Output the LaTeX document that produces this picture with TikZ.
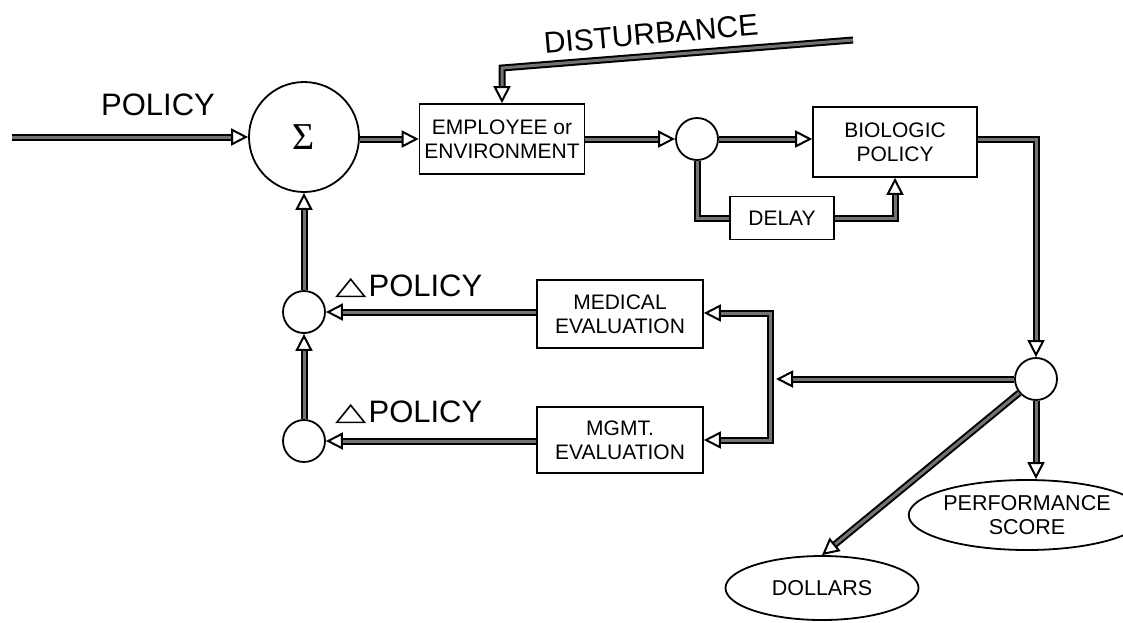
\documentclass[tikz,border=0pt]{standalone}
\usepackage{fontspec}
\setmainfont{Liberation Sans}
\newfontfamily\dejavu{DejaVu Sans}
\newfontfamily\grserif{Liberation Serif}
\usetikzlibrary{arrows.meta,shapes.geometric}
\begin{document}
\begin{tikzpicture}[x=1pt,y=-1pt,
  box/.style={draw, line width=1.6pt, inner sep=0pt, align=center,
    font=\fontsize{21}{24}\selectfont},
  ring/.style={draw, circle, line width=1.8pt, inner sep=0pt},
  oval/.style={draw, ellipse, line width=1.8pt, inner sep=0pt, align=center,
    font=\fontsize{21.5}{24}\selectfont},
  pipe/.style={draw=black, line width=2pt, double=black!55, double distance=3pt},
  arrowhd/.style={-{Triangle[open, length=17pt, width=17pt, line width=2pt]}},
  biglabel/.style={font=\fontsize{31}{31}\selectfont, inner sep=0pt}
]
\useasboundingbox (0,0) rectangle (1123,622);

% nodes
\node[ring, minimum size=110pt] (sigma) at (304,137) {\grserif\fontsize{38}{38}\selectfont Σ};
\node[box, minimum width=165pt, minimum height=70pt] (emp) at (502,139) {EMPLOYEE or\\ENVIRONMENT};
\node[ring, minimum size=42pt] (c1) at (697,139) {};
\node[box, minimum width=164pt, minimum height=70pt] (bio) at (895,142) {BIOLOGIC\\POLICY};
\node[box, minimum width=104pt, minimum height=43pt] (delay) at (782,218) {DELAY};
\node[ring, minimum size=42pt] (c3) at (1036,379) {};
\node[box, minimum width=166pt, minimum height=68pt] (med) at (620,314) {MEDICAL\\EVALUATION};
\node[box, minimum width=166pt, minimum height=66pt] (mgmt) at (620,440) {MGMT.\\EVALUATION};
\node[ring, minimum size=42pt] (cu) at (304,312) {};
\node[ring, minimum size=42pt] (cl) at (304,441) {};
\node[oval, minimum width=187pt, minimum height=70pt] (perf) at (1027,515) {PERFORMANCE\\SCORE};
\node[oval, minimum width=193pt, minimum height=64pt] (dollars) at (822,588) {DOLLARS};

% labels
\node[biglabel] (lpolicy) at (158,105) {POLICY};
\node[biglabel, font=\fontsize{30}{30}\selectfont, rotate=5] (ldist) at (651,34) {DISTURBANCE};
\node[biglabel, anchor=west] (ldp1) at (335,286) {{\dejavu\fontsize{24}{24}\selectfont\raisebox{2pt}{\scalebox{1.7}[1.05]{△}}}\hspace{2pt}POLICY};
\node[biglabel, anchor=west] (ldp2) at (335,412) {{\dejavu\fontsize{24}{24}\selectfont\raisebox{2pt}{\scalebox{1.7}[1.05]{△}}}\hspace{2pt}POLICY};

% free ends / bends
\coordinate (pin) at (12,137);
\coordinate (dstart) at (853,40);
\coordinate (dbend) at (502,68);
\coordinate (bt) at (770,313);
\coordinate (bb) at (770,440);
\coordinate (bj) at (776,379);
\coordinate (dl) at (697,218);
\coordinate (dr) at (895,218);
\coordinate (br) at (1036,139);

% connectors
\draw[pipe, arrowhd] (pin) -- (sigma.west |- pin);
\draw[pipe, arrowhd] (sigma.east |- emp) -- (emp.west);
\draw[pipe, arrowhd] (dstart) -- (dbend) -- (emp.north);
\draw[pipe, arrowhd] (emp.east) -- (c1.west);
\draw[pipe, arrowhd] (c1.east) -- (bio.west |- c1);
\draw[pipe] (c1.south) -- (dl) -- (delay.west);
\draw[pipe, arrowhd] (delay.east) -- (dr) -- (bio.south);
\draw[pipe, arrowhd] (bio.east |- br) -- (br) -- (c3.north);
\draw[pipe, arrowhd] (c3.west) -- (bj);
\draw[pipe, {Triangle[open, length=17pt, width=17pt, line width=2pt]}-{Triangle[open, length=17pt, width=17pt, line width=2pt]}] (med.east |- bt) -- (bt) -- (bb) -- (mgmt.east |- bb);
\draw[pipe, arrowhd] (med.west |- cu) -- (cu.east);
\draw[pipe, arrowhd] (mgmt.west |- cl) -- (cl.east);
\draw[pipe, arrowhd] (cl.north) -- (cu.south);
\draw[pipe, arrowhd] (cu.north) -- (sigma.south);
\draw[pipe, arrowhd] (c3.south) -- (c3.south |- perf.north);
\draw[pipe, arrowhd] (c3) -- (dollars.north);
\end{tikzpicture}
\end{document}
